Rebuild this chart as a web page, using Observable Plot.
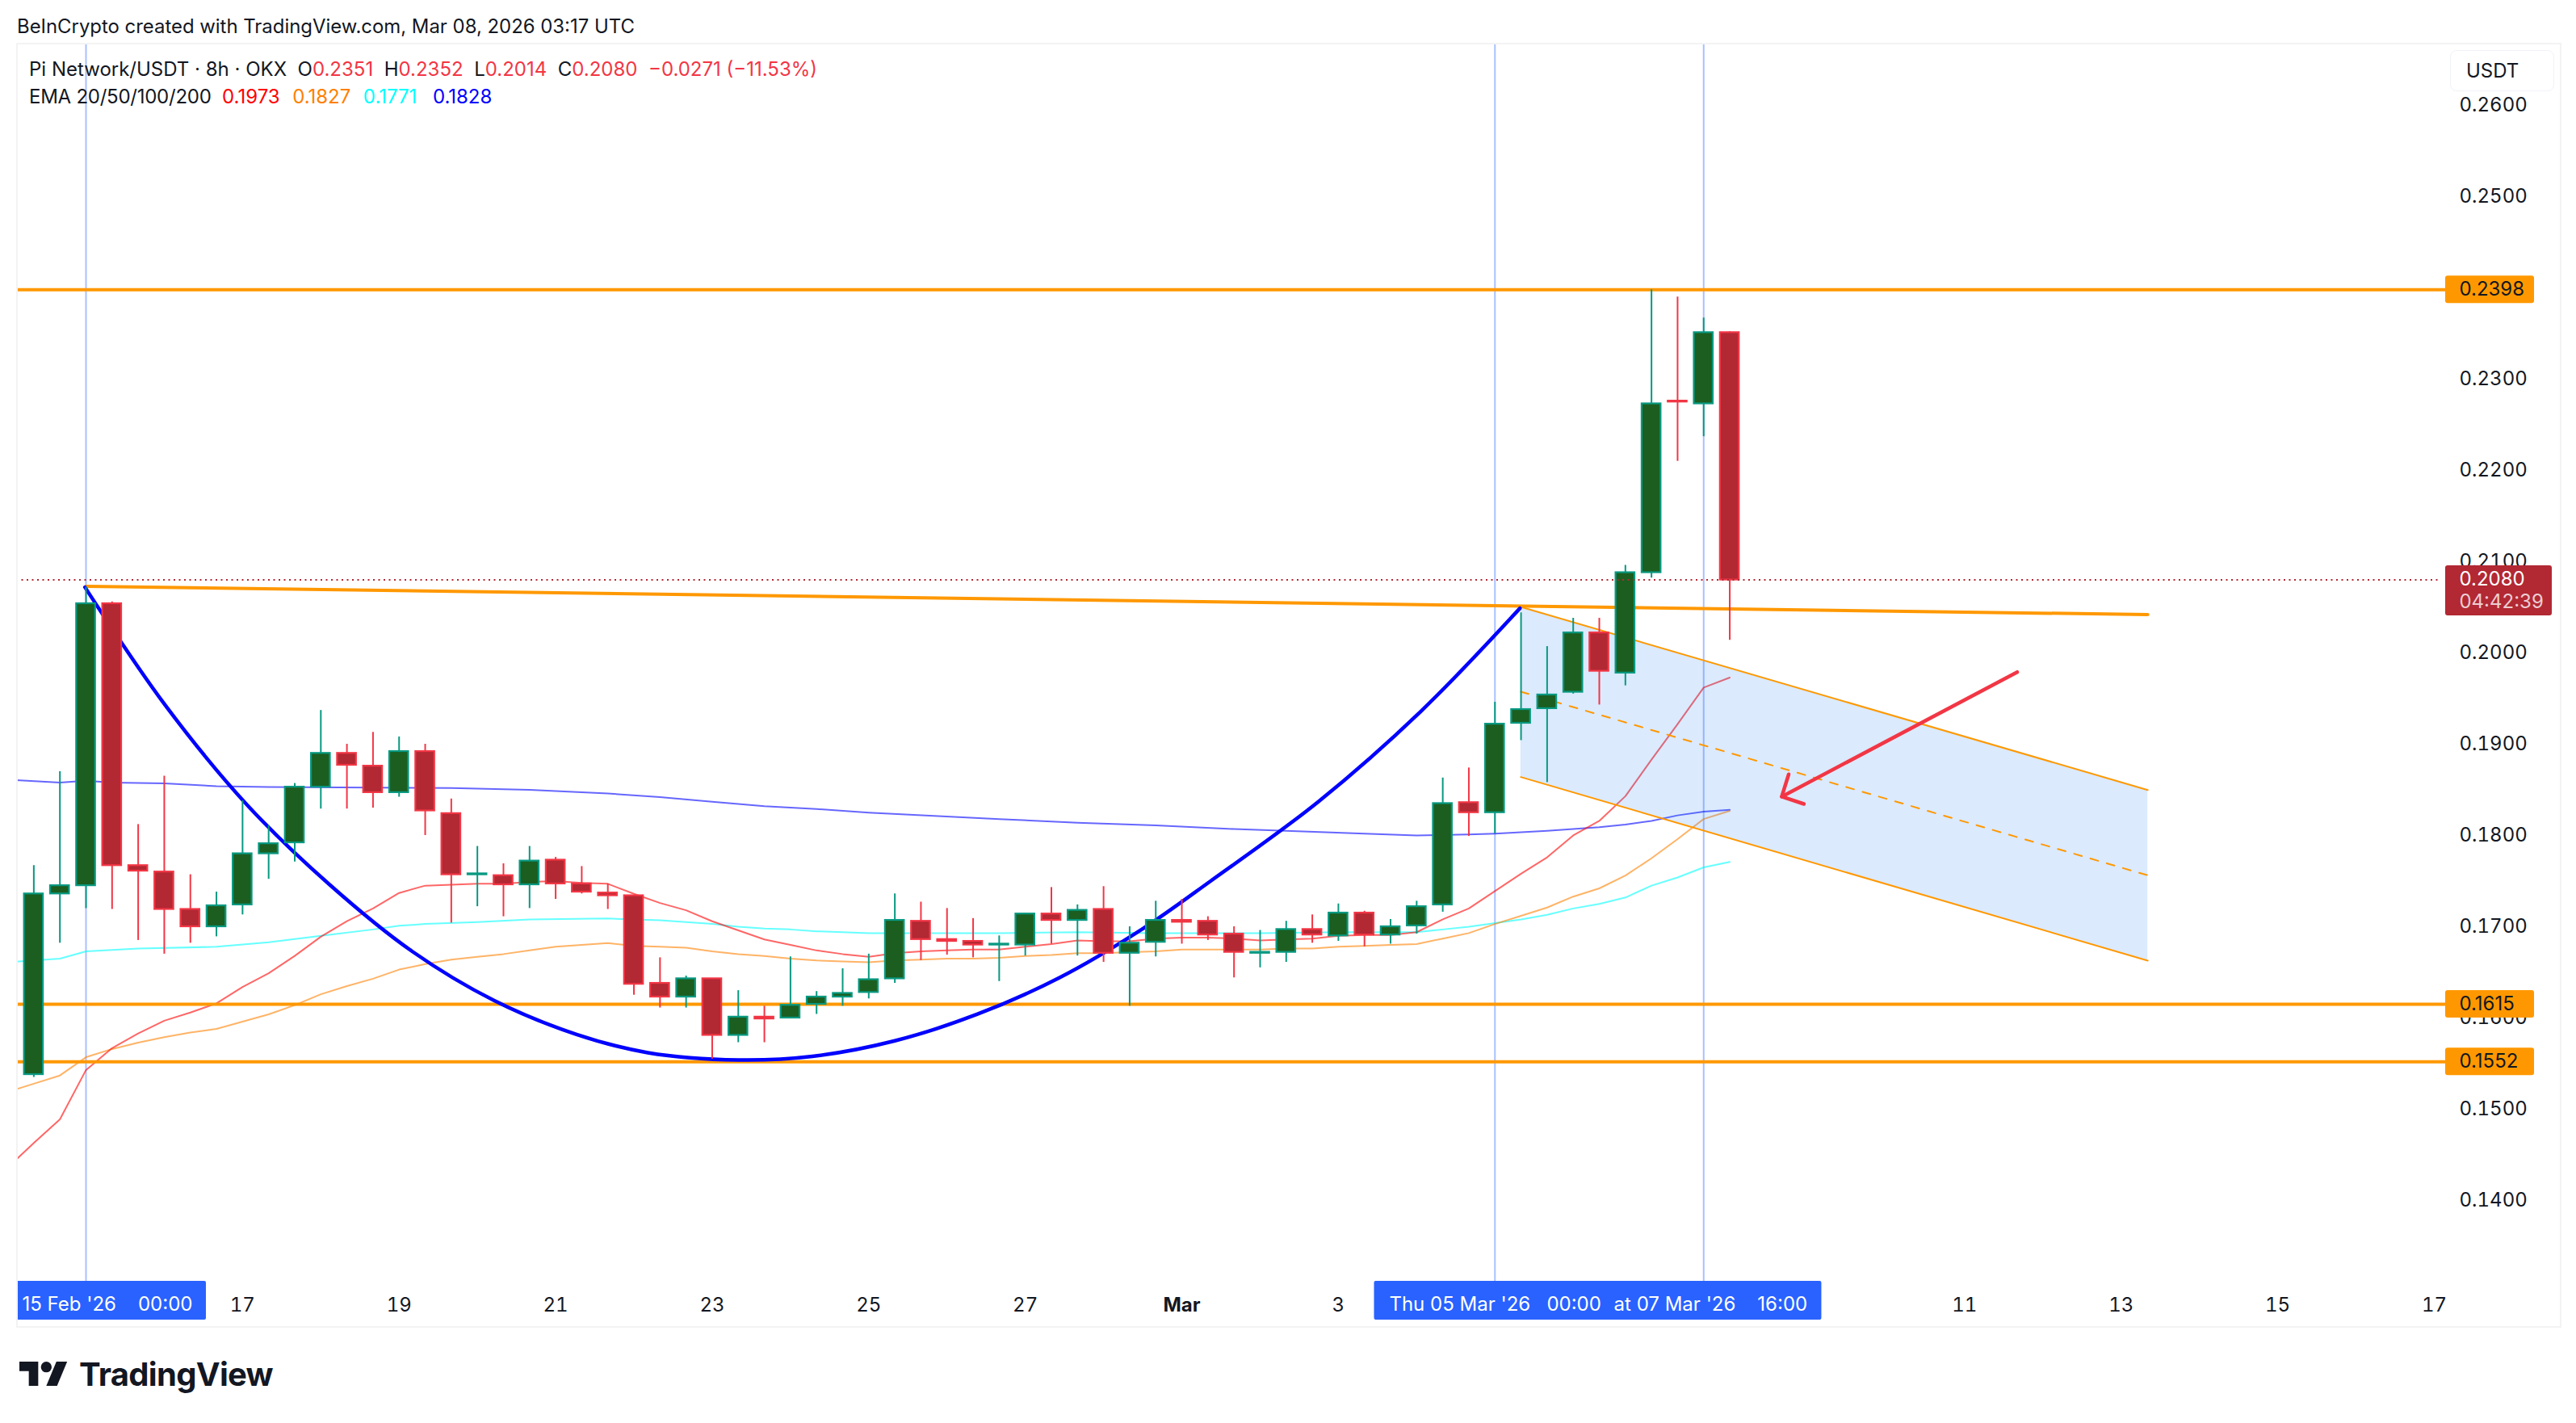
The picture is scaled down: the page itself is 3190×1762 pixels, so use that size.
<!DOCTYPE html>
<html><head><meta charset="utf-8">
<script src="https://cdn.jsdelivr.net/npm/d3@7"></script>
<script src="https://cdn.jsdelivr.net/npm/@observablehq/plot@0.6"></script>
<style>
html,body{margin:0;padding:0;background:#fff;width:3190px;height:1762px;overflow:hidden}
body{position:relative;font-family:Inter,sans-serif;color:#131722}
svg{display:block}
.abs{position:absolute;white-space:pre}
.r{color:#f23645}
</style></head><body>
<div id="chart"></div>
<script>
const opens =[.1538,.1736,.1745,.2054,.1767,.1760,.1719,.1700,.1724,.1780,.1792,.1853,.1890,.1876,.1847,.1892,.1824,.1757,.1756,.1746,.1773,.1747,.1737,.1734,.1638,.1623,.1643,.1581,.1601,.1600,.1615,.1623,.1628,.1643,.1706,.1686,.1684,.1680,.1680,.1714,.1707,.1719,.1671,.1683,.1707,.1706,.1692,.1671,.1672,.1697,.1690,.1715,.1691,.1701,.1724,.1836,.1825,.1923,.1939,.1957,.2022,.1978,.2088,.2276,.2273,.2351];
const closes=[.1736,.1745,.2054,.1767,.1761,.1719,.1700,.1723,.1780,.1791,.1853,.1890,.1877,.1847,.1892,.1827,.1757,.1758,.1746,.1772,.1747,.1738,.1734,.1637,.1623,.1643,.1581,.1601,.1599,.1614,.1623,.1627,.1642,.1707,.1686,.1684,.1680,.1681,.1714,.1707,.1718,.1671,.1682,.1707,.1705,.1691,.1672,.1672,.1697,.1691,.1715,.1691,.1700,.1722,.1835,.1825,.1922,.1938,.1954,.2022,.1980,.2088,.2273,.2275,.2351,.2080];
const highs =[.1767,.1870,.2072,.2056,.1812,.1865,.1757,.1738,.1838,.1811,.1857,.1937,.1900,.1913,.1908,.1900,.1840,.1788,.1769,.1788,.1776,.1766,.1747,.1734,.1666,.1646,.1643,.1630,.1613,.1667,.1629,.1654,.1670,.1736,.1727,.1720,.1709,.1690,.1715,.1743,.1724,.1744,.1700,.1728,.1730,.1711,.1700,.1696,.1706,.1713,.1725,.1717,.1708,.1728,.1863,.1874,.1946,.2044,.2007,.2038,.2038,.2096,.2398,.2390,.2367,.2352];
const lows  =[.1535,.1682,.1720,.1719,.1685,.1670,.1682,.1689,.1713,.1752,.1771,.1829,.1829,.1830,.1842,.1800,.1704,.1722,.1711,.1720,.1730,.1736,.1719,.1625,.1611,.1611,.1555,.1573,.1573,.1600,.1604,.1613,.1621,.1638,.1663,.1669,.1666,.1640,.1668,.1681,.1668,.1661,.1613,.1667,.1681,.1685,.1644,.1655,.1661,.1682,.1684,.1678,.1681,.1692,.1716,.1799,.1802,.1904,.1858,.1955,.1943,.1964,.2082,.2210,.2237,.2014];

// EMA 20 and 50, one value per bar, first one is the bar before the first candle
const ema20=[.1436,.1463,.1489,.1543,.1567,.1583,.1597,.1606,.1616,.1634,.1649,.1668,.1689,.1706,.1720,.1737,.1745,.1746,.1747,.1747,.1749,.1750,.1748,.1747,.1736,.1726,.1718,.1706,.1696,.1686,.1680,.1674,.1670,.1667,.1671,.1673,.1674,.1675,.1675,.1678,.1681,.1685,.1684,.1684,.1687,.1688,.1688,.1687,.1685,.1686,.1687,.1690,.1691,.1691,.1694,.1708,.1720,.1739,.1758,.1776,.1800,.1816,.1843,.1883,.1922,.1962,.1973];
const ema50=[.1519,.1528,.1537,.1557,.1566,.1573,.1579,.1584,.1588,.1596,.1604,.1614,.1626,.1635,.1643,.1653,.1659,.1664,.1667,.1670,.1674,.1678,.1680,.1682,.1679,.1678,.1677,.1673,.1670,.1668,.1665,.1663,.1662,.1661,.1663,.1664,.1665,.1665,.1666,.1668,.1669,.1671,.1671,.1672,.1673,.1675,.1675,.1675,.1675,.1676,.1676,.1678,.1679,.1680,.1681,.1687,.1693,.1703,.1712,.1721,.1733,.1742,.1756,.1775,.1796,.1818,.1827];
// EMA 100 and 200 read at selected bars
const ema100Bars=[-1,1,2,4,7,9,11,13,14,15,17,19,22,23,24,25,26,27,28,29,30,31,32,37,40,43,47,50,52,53,54,55,56,57,58,59,60,61,62,63,64,65];
const ema100=[.1661,.1665,.1673,.1676,.1678,.1683,.1690,.1697,.1701,.1703,.1705,.1708,.1709,.1708,.1707,.1705,.1703,.1700,.1698,.1697,.1695,.1694,.1693,.1693,.1694,.1693,.1693,.1694,.1694,.1694,.1697,.1700,.1704,.1708,.1713,.1720,.1725,.1732,.1745,.1754,.1765,.1771];
const ema200Bars=[-1,1,2,3,5,7,9,16,19,22,24,26,28,30,32,37,40,43,46,48,51,53,55,56,58,60,61,62,63,64,65];
const ema200=[.1861,.1858,.1860,.1858,.1857,.1854,.1853,.1852,.1850,.1846,.1842,.1837,.1832,.1829,.1825,.1818,.1814,.1811,.1807,.1805,.1802,.1800,.1801,.1802,.1805,.1809,.1812,.1816,.1822,.1826,.1828];

// Cup arc drawing, bar position and price
const arcBars=[1.96,5.03,8.19,11.34,14.5,17.65,20.8,23.53,27,29.84,33,36.15,39.3,42.46,45.1,49.23,53.16,56.96];
const arcPrices=[.2072,.1943,.1833,.1746,.1673,.1619,.1582,.1562,.1554,.1558,.1575,.1604,.1644,.1697,.1750,.1837,.1936,.2049];

// Drawings: days since 15 Feb 2026, price
const levels=[.2398,.1615,.1552];
const levelLabels=["0.2398","0.1615","0.1552"];
const trendDays=[0,26.34], trendPrices=[.2073,.2042];
const channelDays=[18.33,26.34], channelTop=[.20504,.18498], channelMid=[.19575,.17563], channelBottom=[.18640,.16628];
const arrowShaftDays=[24.672,21.664], arrowShaftPrices=[.1979,.18425];
const arrowHeadDays=[21.753,21.664,21.948], arrowHeadPrices=[.1867,.18425,.18345];
const priceTicks=[.14,.15,.16,.17,.18,.19,.20,.21,.22,.23,.25,.26];
const dayTicks=[2,4,6,8,10,12,16,24,26,28,30];
const dayTickLabels=["17","19","21","23","25","27","3","11","13","15","17"];
const vlineDays=[0,18,20+2/3];

const day0=Date.UTC(2026,1,15);
const day=d=>new Date(day0+d*864e5);
const bar=i=>day((i-2)/3);
const halfBody=2.9/24;
const UP={fill:"#1b5e20",stroke:"#089981"},DOWN={fill:"#b22833",stroke:"#f23645"};

const candles=opens.map((o,i)=>({t:bar(i),o,c:closes[i],h:highs[i],l:lows[i],s:closes[i]>=o?UP:DOWN,d:(i-2)/3}));
const series=(bars,vals)=>vals.map((v,i)=>({t:bar(bars[i]),v}));
const idx=ema20.map((_,i)=>i-1);
const pairs=(ds,ps)=>ds.map((d,i)=>({t:day(d),v:ps[i]}));
const arc=arcPrices.map((v,i)=>({t:bar(arcBars[i]),v}));
const channel=channelDays.map((d,i)=>({t:day(d),top:channelTop[i],mid:channelMid[i],bot:channelBottom[i]}));

const font="Inter, sans-serif";
const domainStart=-.8872, domainEnd=30.145;
const tagDay=[domainEnd,31.28];
const redTagDay=[domainEnd,31.507];
const textDay=30.32;
const tagHalf=.0015;

const plot=Plot.plot({
  width:3190,height:1762,marginLeft:20,marginRight:162,marginTop:53,marginBottom:176,
  style:{fontFamily:font,fontSize:"24px",background:"transparent",color:"#131722"},
  x:{type:"utc",domain:[day(domainStart),day(domainEnd)],axis:null,label:null},
  y:{domain:[.13115,.26681],axis:null,label:null},
  marks:[
    Plot.ruleX(vlineDays.map(day),{stroke:"#2962ff",strokeOpacity:.4,strokeWidth:2}),
    Plot.line(series(ema200Bars,ema200),{x:"t",y:"v",stroke:"#0000ff",strokeOpacity:.6,strokeWidth:2,clip:true}),
    Plot.line(series(ema100Bars,ema100),{x:"t",y:"v",stroke:"#00ffff",strokeOpacity:.6,strokeWidth:2,clip:true}),
    Plot.line(series(idx,ema50),{x:"t",y:"v",stroke:"#ff8000",strokeOpacity:.6,strokeWidth:2,clip:true}),
    Plot.line(series(idx,ema20),{x:"t",y:"v",stroke:"#ff0000",strokeOpacity:.6,strokeWidth:2,clip:true}),
    Plot.areaY(channel,{x:"t",y1:"top",y2:"bot",fill:"#217bf3",fillOpacity:.16}),
    Plot.line(channel,{x:"t",y:"top",stroke:"#ff9800",strokeWidth:2}),
    Plot.line(channel,{x:"t",y:"bot",stroke:"#ff9800",strokeWidth:2}),
    Plot.line(channel,{x:"t",y:"mid",stroke:"#ff9800",strokeWidth:2,strokeDasharray:"10 11"}),
    Plot.ruleY(levels,{stroke:"#ff9800",strokeWidth:4}),
    Plot.line(pairs(trendDays,trendPrices),{x:"t",y:"v",stroke:"#ff9800",strokeWidth:4}),
    Plot.line(arc,{x:"t",y:"v",stroke:"#0000ff",strokeWidth:4.5,curve:"catmull-rom"}),
    Plot.ruleX(candles,{x:"t",y1:"l",y2:"h",stroke:d=>d.s.stroke,strokeWidth:2}),
    Plot.rect(candles,{x1:d=>day(d.d-halfBody),x2:d=>day(d.d+halfBody),y1:"o",y2:"c",fill:d=>d.s.fill,stroke:d=>d.s.stroke,strokeWidth:2.2}),
    Plot.line(pairs(arrowShaftDays,arrowShaftPrices),{x:"t",y:"v",stroke:"#f23645",strokeWidth:4.5}),
    Plot.line(pairs(arrowHeadDays,arrowHeadPrices),{x:"t",y:"v",stroke:"#f23645",strokeWidth:4.5}),
    Plot.ruleY([.2080],{x1:day(domainStart),x2:day(30.08),stroke:"#b22833",strokeWidth:2,strokeDasharray:"2 4.5"}),
    // axes
    Plot.axisY(priceTicks,{anchor:"right",tickSize:0,tickPadding:17,tickFormat:d=>d.toFixed(4),fontSize:24,fill:"#131722",label:null}),
    Plot.axisX(dayTicks.map(day),{anchor:"bottom",tickSize:0,tickPadding:20,tickFormat:(d,i)=>dayTickLabels[i],fontSize:24,fill:"#131722",label:null}),
    Plot.axisX([day(14)],{anchor:"bottom",tickSize:0,tickPadding:20,tickFormat:()=>"Mar",fontSize:24,fontWeight:"bold",fill:"#131722",label:null}),
    // price tags
    Plot.rect(levels,{x1:day(tagDay[0]),x2:day(tagDay[1]),y1:d=>d-tagHalf,y2:d=>d+tagHalf,fill:"#ff9800",rx:3}),
    Plot.text(levels,{x:day(textDay),y:d=>d,text:(d,i)=>levelLabels[i],textAnchor:"start",fontSize:24,fill:"#131722"}),
    Plot.rect([.2080],{x1:day(redTagDay[0]),x2:day(redTagDay[1]),y1:.20407,y2:.20956,fill:"#b22833",rx:3}),
    Plot.text(["0.2080"],{x:day(textDay),y:.2081,text:d=>d,textAnchor:"start",fontSize:24,fill:"#ffffff"}),
    Plot.text(["04:42:39"],{x:day(textDay),y:.20558,text:d=>d,textAnchor:"start",fontSize:24,fill:"#eccdd2"}),
    // crosshair date labels
    Plot.rect([0],{x1:day(domainStart),x2:day(1.537),y1:.1269,y2:.13115,fill:"#2962ff",rx:2}),
    Plot.rect([0],{x1:day(16.46),x2:day(22.175),y1:.1269,y2:.13115,fill:"#2962ff",rx:2}),
    Plot.text(["15 Feb '26\u00a0\u00a0\u00a0\u00a000:00"],{x:day(-.815),y:.12858,text:d=>d,textAnchor:"start",fontSize:24,fill:"#fff"}),
    Plot.text(["Thu 05 Mar '26\u00a0\u00a0\u00a000:00"],{x:day(16.65),y:.12858,text:d=>d,textAnchor:"start",fontSize:24,fill:"#fff"}),
    Plot.text(["at 07 Mar '26\u00a0\u00a0\u00a0\u00a016:00"],{x:day(19.52),y:.12858,text:d=>d,textAnchor:"start",fontSize:24,fill:"#fff"})
  ]
});
document.getElementById("chart").append(plot);

const add=(html,style)=>{const e=document.createElement("div");e.className="abs";e.style.cssText=style;e.innerHTML=html;document.body.append(e);return e;};
add("BeInCrypto created with TradingView.com, Mar 08, 2026 03:17 UTC","left:21px;top:18px;font-size:23.9px;line-height:30px;");
add('Pi Network/USDT · 8h · OKX  O<span class="r">0.2351</span>  H<span class="r">0.2352</span>  L<span class="r">0.2014</span>  C<span class="r">0.2080</span>  <span class="r">−0.0271 (−11.53%)</span>',"left:36px;top:71px;font-size:24px;line-height:30px;");
add('<span style="letter-spacing:-.25px">EMA 20/50/100/200</span>  <span style="color:#ff0000">0.1973</span>  <span style="color:#ff8000;margin-left:2px">0.1827</span>  <span style="color:#00ffff;margin-left:2px">0.1771</span>  <span style="color:#0000ff;margin-left:6px">0.1828</span>',"left:36px;top:105px;font-size:24px;line-height:30px;");
add("","left:20px;top:53px;width:3148px;height:1587px;border:2px solid #f3f3f3;pointer-events:none;");
add("USDT","left:3034px;top:62px;width:127px;height:49px;background:#fff;border:1px solid #f0f3fa;border-radius:8px;font-size:24px;line-height:49px;text-indent:19px;");
add('<svg width="60" height="30" viewBox="0 4 36 18" style="display:block"><path fill="#131722" d="M14 22H7V11H0V4h14v18zM28 22h-8l7.5-18h8L28 22z"/><circle fill="#131722" cx="20" cy="8" r="4"/></svg>',"left:24px;top:1686px;");
add("TradingView","left:98px;top:1678px;font-size:40px;line-height:48px;font-weight:700;letter-spacing:-.7px;color:#131722;");
</script></body></html>
